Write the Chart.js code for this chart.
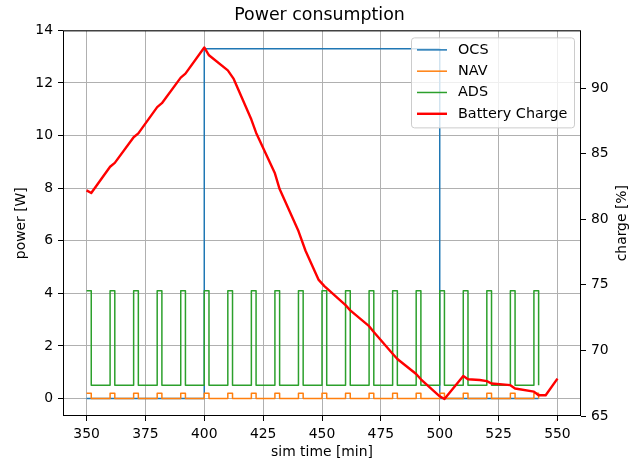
<!DOCTYPE html>
<html>
<head>
<meta charset="utf-8">
<script src="https://cdn.jsdelivr.net/npm/chart.js@4.4.1/dist/chart.umd.min.js"></script>
<style>
  body { margin: 0; background: #fff; }
  #wrap { width: 639px; height: 461px; position: relative; }
</style>
</head>
<body>
<div id="wrap"><canvas id="powerChart"></canvas></div>
<script>
// time [min] of each switch of ADS / NAV (on at even index, off at odd index)
const pulseTime = [350, 352, 360, 362, 370, 372, 380, 382, 390, 392,
                   400, 402, 410, 412, 420, 422, 430, 432, 440, 442,
                   450, 452, 460, 462, 470, 472, 480, 482, 490, 492,
                   500, 502, 510, 512, 520, 522, 530, 532, 540, 542];
const adsPower = [4.1, 0.5, 4.1, 0.5, 4.1, 0.5, 4.1, 0.5, 4.1, 0.5,
                  4.1, 0.5, 4.1, 0.5, 4.1, 0.5, 4.1, 0.5, 4.1, 0.5,
                  4.1, 0.5, 4.1, 0.5, 4.1, 0.5, 4.1, 0.5, 4.1, 0.5,
                  4.1, 0.5, 4.1, 0.5, 4.1, 0.5, 4.1, 0.5, 4.1, 0.5];
const navPower = [0.2, 0, 0.2, 0, 0.2, 0, 0.2, 0, 0.2, 0,
                  0.2, 0, 0.2, 0, 0.2, 0, 0.2, 0, 0.2, 0,
                  0.2, 0, 0.2, 0, 0.2, 0, 0.2, 0, 0.2, 0,
                  0.2, 0, 0.2, 0, 0.2, 0, 0.2, 0, 0.2, 0];

const ocsTime = [350, 400, 500, 542];
const ocsPower = [0, 13.3, 0, 0];

const chargeTime = [350, 352, 360, 362, 370, 372, 380, 382, 390, 392,
                    400, 402, 410, 412.5, 420, 422, 430, 432, 440, 443,
                    448.5, 451, 460, 462, 470, 472, 480, 482, 490, 492,
                    500, 502, 510, 512, 517, 520, 522, 530, 532, 540,
                    542, 545, 550];
const charge = [82.2, 82.0, 84.0, 84.3, 86.25, 86.55, 88.55, 88.85, 90.8, 91.1,
                93.1, 92.5, 91.35, 90.7, 87.6, 86.6, 83.5, 82.3, 79.1, 77.6,
                75.4, 74.9, 73.45, 73.05, 71.85, 71.4, 69.75, 69.35, 68.2, 67.8,
                66.5, 66.3, 68.05, 67.8, 67.74, 67.66, 67.48, 67.35, 67.1, 66.86,
                66.58, 66.58, 67.85];

const xTicks = [350, 375, 400, 425, 450, 475, 500, 525, 550];
const powerTicks = [0, 2, 4, 6, 8, 10, 12, 14];
const chargeTicks = [65, 70, 75, 80, 85, 90];

const FONT = 'DejaVu Sans';
Chart.defaults.font.family = FONT;
Chart.defaults.color = '#000';

function toPoints(xs, ys) {
    return xs.map((x, i) => ({x: x, y: ys[i]}));
}

function fixTicks(values) {
    return function (scale) {
        scale.ticks = values.map(v => ({value: v}));
    };
}

// spines + legend inside the plot + right axis label (reads bottom to top)
const framePlugin = {
    id: 'framePlugin',
    afterDatasetsDraw(chart) {
        const {ctx, chartArea} = chart;
        ctx.save();
        ctx.strokeStyle = '#000';
        ctx.lineWidth = 1;
        ctx.strokeRect(chartArea.left + 0.5, chartArea.top + 0.5,
                       chartArea.right - chartArea.left - 1, chartArea.bottom - chartArea.top - 1);
        ctx.restore();
    },
    afterDraw(chart) {
        const {ctx, chartArea} = chart;
        const w = 163, h = 90;
        const x0 = chartArea.right - 7 - w;
        const y0 = chartArea.top + 7;
        ctx.save();
        ctx.beginPath();
        ctx.roundRect(x0 + 0.5, y0 + 0.5, w, h, 3);
        ctx.fillStyle = 'rgba(255,255,255,0.8)';
        ctx.fill();
        ctx.strokeStyle = '#cccccc';
        ctx.lineWidth = 1;
        ctx.stroke();
        ctx.font = '14.4px "' + FONT + '"';
        ctx.textBaseline = 'middle';
        chart.data.datasets.forEach((ds, i) => {
            const y = y0 + 12.5 + i * 21.3;
            ctx.beginPath();
            ctx.moveTo(x0 + 6, y);
            ctx.lineTo(x0 + 36, y);
            ctx.strokeStyle = ds.borderColor;
            ctx.lineWidth = ds.borderWidth;
            ctx.stroke();
            ctx.fillStyle = '#000';
            ctx.fillText(ds.label, x0 + 47, y);
        });

        ctx.font = '13.9px "' + FONT + '"';
        ctx.translate(622, (chartArea.top + chartArea.bottom) / 2);
        ctx.rotate(-Math.PI / 2);
        ctx.textAlign = 'center';
        ctx.fillText('charge [%]', 0, 0);
        ctx.restore();
    }
};

document.addEventListener("DOMContentLoaded", function () {
    const ctx = document.getElementById('powerChart').getContext('2d');
    new Chart(ctx, {
        type: 'line',
        data: {
            datasets: [
                {label: 'OCS', data: toPoints(ocsTime, ocsPower), yAxisID: 'y',
                 borderColor: '#1f77b4', borderWidth: 1.5, stepped: 'before', order: 4},
                {label: 'NAV', data: toPoints(pulseTime, navPower), yAxisID: 'y',
                 borderColor: '#ff7f0e', borderWidth: 1.5, stepped: 'before', order: 3},
                {label: 'ADS', data: toPoints(pulseTime, adsPower), yAxisID: 'y',
                 borderColor: '#2ca02c', borderWidth: 1.5, stepped: 'before', order: 2},
                {label: 'Battery Charge', data: toPoints(chargeTime, charge), yAxisID: 'y2',
                 borderColor: '#ff0000', borderWidth: 2.4, order: 1}
            ]
        },
        options: {
            responsive: true,
            maintainAspectRatio: false,
            animation: false,
            layout: {padding: 0},
            elements: {point: {radius: 0}, line: {fill: false, tension: 0, borderJoinStyle: 'round'}},
            plugins: {
                legend: {display: false},
                tooltip: {enabled: false},
                title: {
                    display: true,
                    text: 'Power consumption',
                    color: '#000',
                    font: {size: 17.4, weight: 'normal'},
                    padding: {top: 5.5, bottom: 4}
                }
            },
            scales: {
                x: {
                    type: 'linear',
                    min: 340,
                    max: 560,
                    afterBuildTicks: fixTicks(xTicks),
                    afterFit(scale) { scale.height = 45; },
                    grid: {color: '#b0b0b0', lineWidth: 1, tickColor: '#000', tickLength: 5},
                    border: {display: false},
                    ticks: {font: {size: 13.9}, padding: 5, maxRotation: 0},
                    title: {display: true, text: 'sim time [min]', font: {size: 13.9}, padding: 0}
                },
                y: {
                    position: 'left',
                    min: -0.665,
                    max: 14,
                    afterBuildTicks: fixTicks(powerTicks),
                    afterFit(scale) { scale.width = 63; },
                    grid: {color: '#b0b0b0', lineWidth: 1, tickColor: '#000', tickLength: 5},
                    border: {display: false},
                    ticks: {font: {size: 13.9}, padding: 5},
                    title: {display: true, text: 'power [W]', font: {size: 13.9}, padding: {top: 13, bottom: 0}}
                },
                y2: {
                    position: 'right',
                    min: 65,
                    max: 94.4,
                    afterBuildTicks: fixTicks(chargeTicks),
                    afterFit(scale) { scale.width = 58; },
                    grid: {drawOnChartArea: false, tickColor: '#000', tickLength: 5},
                    border: {display: false},
                    ticks: {font: {size: 13.9}, padding: 5}
                }
            }
        },
        plugins: [framePlugin]
    });
});
</script>
</body>
</html>
